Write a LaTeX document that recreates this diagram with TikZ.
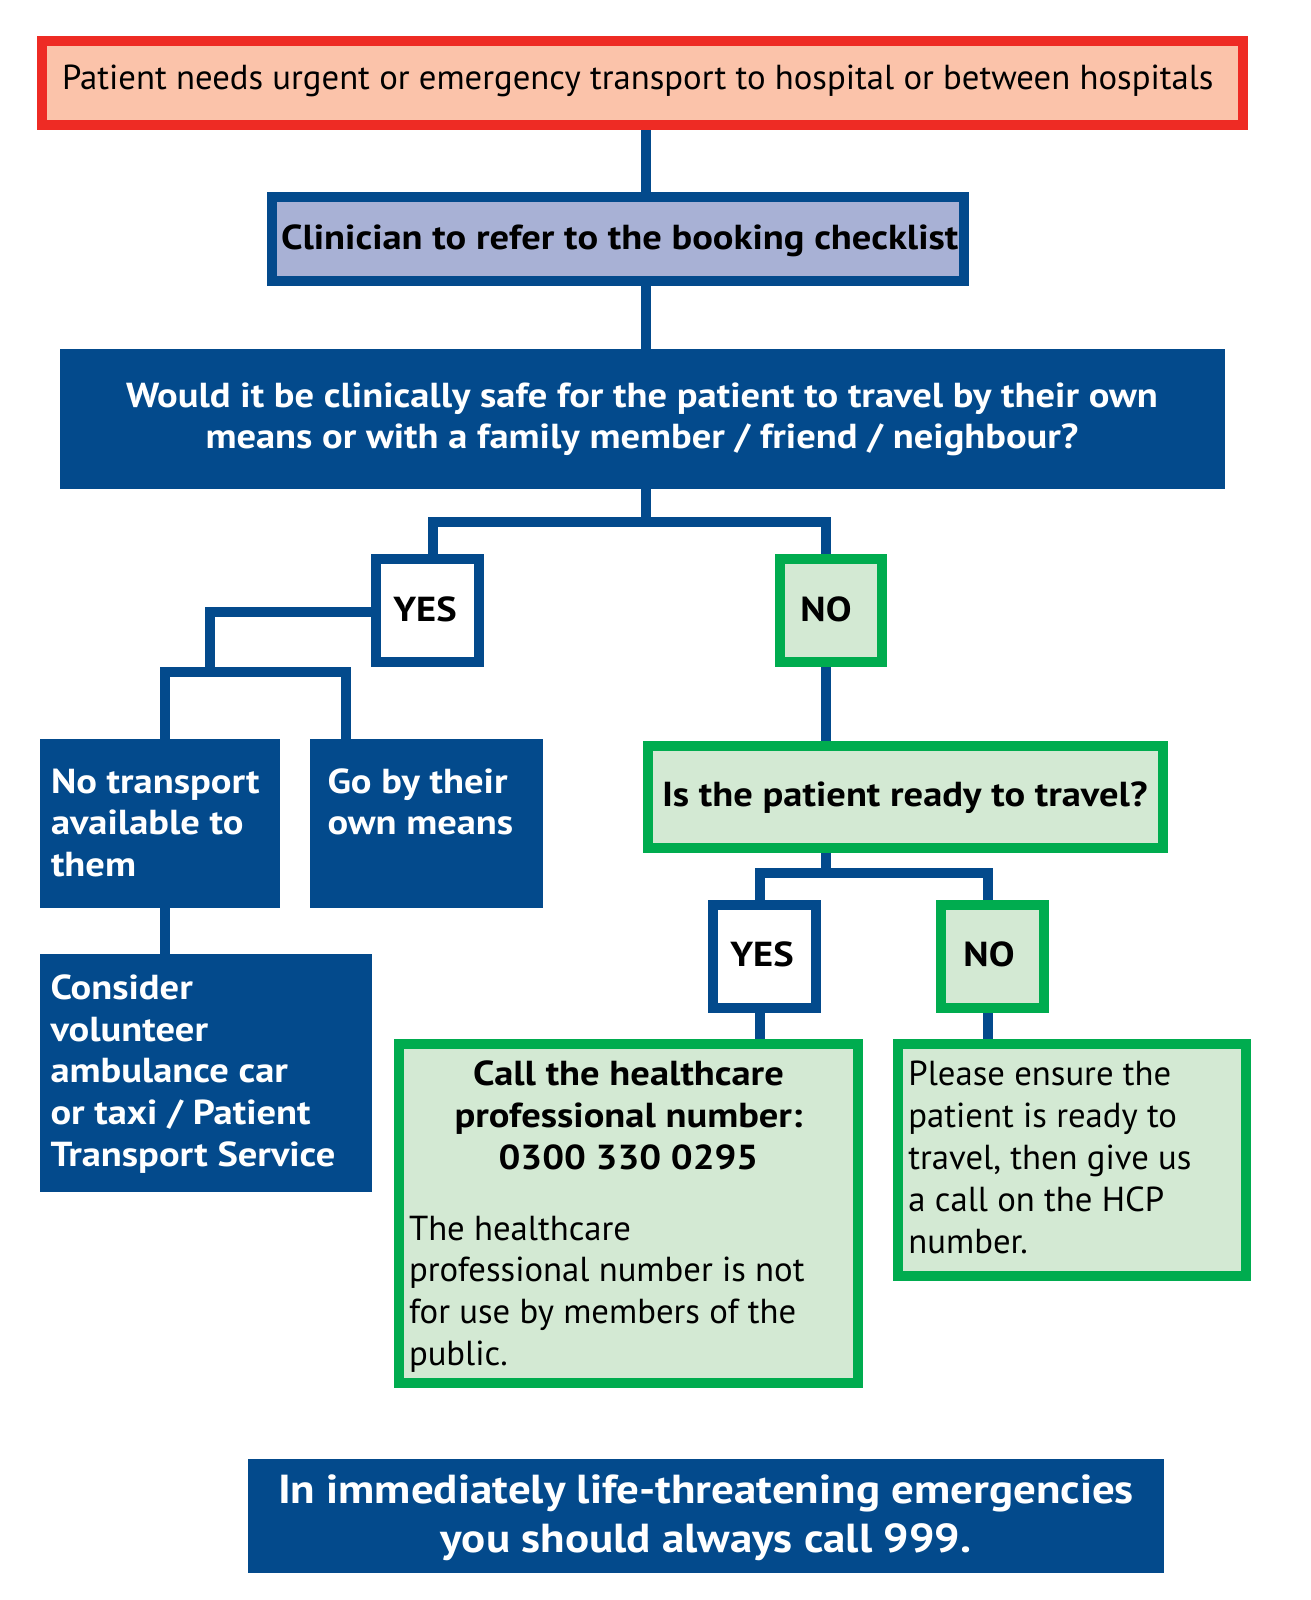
\documentclass[tikz,border=0pt]{standalone}
\usepackage{fontspec}
\setmainfont{PT Sans}[BoldFeatures={FakeStretch=1.11}]
\definecolor{nblue}{HTML}{034A8C}
\definecolor{nred}{HTML}{EE2B24}
\definecolor{salmon}{HTML}{FBC3AA}
\definecolor{lav}{HTML}{A8B1D5}
\definecolor{ngreen}{HTML}{00AC4F}
\definecolor{lgreen}{HTML}{D3E9D3}
\newcommand\fst{\rule{0pt}{32pt}}
\tikzset{
  box/.style={rectangle, inner sep=0pt, line width=10pt},
  redbox/.style={box, draw=nred, fill=salmon},
  bluefr/.style={box, draw=nblue},
  greenfr/.style={box, draw=ngreen, fill=lgreen},
  bluefill/.style={rectangle, inner sep=0pt, outer sep=0pt, draw=none, fill=nblue},
  conn/.style={draw=nblue, line width=10pt, line join=miter},
  txt/.style={inner sep=0pt, outer sep=0pt, font=\fontsize{34.7}{41.5}\selectfont},
  btxt/.style={txt, font=\fontsize{34.7}{41.5}\selectfont\bfseries},
  wtxt/.style={btxt, text=white},
}
\begin{document}
\begin{tikzpicture}[x=1pt,y=-1pt]
\useasboundingbox (0,0) rectangle (1310,1600);
% boxes
\node[redbox, minimum width=1201pt, minimum height=84pt] (top) at (642.5,83) {};
\node[bluefr, fill=lav, minimum width=692pt, minimum height=84pt] (clin) at (618,239) {};
\node[bluefill, minimum width=1165pt, minimum height=140pt] (would) at (642.5,419) {};
\node[bluefr, fill=white, minimum width=103pt, minimum height=103pt] (yes1) at (427.5,610.5) {};
\node[greenfr, minimum width=102pt, minimum height=103pt] (no1) at (831,610.5) {};
\node[bluefill, minimum width=240pt, minimum height=169pt] (notrans) at (160,823.5) {};
\node[bluefill, minimum width=233pt, minimum height=169pt] (goby) at (426.5,823.5) {};
\node[bluefill, minimum width=332pt, minimum height=238pt] (consider) at (206,1073) {};
\node[greenfr, minimum width=515pt, minimum height=102pt] (ready) at (905.5,797) {};
\node[bluefr, fill=white, minimum width=103pt, minimum height=103pt] (yes2) at (764.5,956.5) {};
\node[greenfr, minimum width=103pt, minimum height=103pt] (no2) at (992.5,956.5) {};
\node[greenfr, minimum width=459pt, minimum height=339pt] (call) at (628.5,1213.5) {};
\node[greenfr, minimum width=348pt, minimum height=232pt] (please) at (1072,1160) {};
\node[bluefill, minimum width=916pt, minimum height=114pt] (bottom) at (706,1516) {};
% connector coordinates
\coordinate (xa) at (646,0);
\coordinate (xy) at (433,0);
\coordinate (xn) at (826,0);
\coordinate (xl) at (210,0);
\coordinate (xnt) at (165,0);
\coordinate (xgb) at (346,0);
\coordinate (xy2) at (760,0);
\coordinate (xn2) at (987.5,0);
% connectors
\draw[conn] (top.south -| xa) -- (clin.north -| xa);
\draw[conn] (clin.south -| xa) -- (would.north -| xa);
\draw[conn] (would.south -| xa) -- ++(0,33);
\draw[conn] (yes1.north -| xy) -- ++(0,-32) -| (no1.north -| xn);
\draw[conn] (yes1.west |- 0,612) -| ([yshift=5pt]xl |- 0,672);
\draw[conn] (notrans.north -| xnt) -- ++(0,-67) -| (goby.north -| xgb);
\draw[conn] (notrans.south -| xnt) -- (consider.north -| xnt);
\draw[conn] (no1.south -| xn) -- (ready.north -| xn);
\draw[conn] (ready.south -| xn) -- ++(0,20);
\draw[conn] (yes2.north -| xy2) -- ++(0,-27) -| (no2.north -| xn2);
\draw[conn] (yes2.south -| xy2) -- (call.north -| xy2);
\draw[conn] (no2.south -| xn2) -- (please.north -| xn2);
% texts
\node[txt, anchor=base west] (ttop) at (62,89.3) {Patient needs urgent or emergency transport to hospital or between hospitals};
\node[btxt, anchor=base west] (tclin) at (281,249.3) {Clinician to refer to the booking checklist};
\node[wtxt, align=center, anchor=north] (twould) at (642,375.3) {\fst Would it be clinically safe for the patient to travel by their own\\means or with a family member / friend / neighbour?};
\node[btxt, anchor=base] (tyes1) at (425,621.7) {YES};
\node[btxt, anchor=base] (tno1) at (826,621.7) {NO};
\node[wtxt, align=left, anchor=north west] (tnotrans) at (51,761.3) {\fst No transport\\available to\\them};
\node[wtxt, align=left, anchor=north west] (tgoby) at (327.5,761.3) {\fst Go by their\\own means};
\node[wtxt, align=left, anchor=north west, font=\fontsize{34.7}{41.7}\selectfont\bfseries] (tconsider) at (50.5,967.3) {\fst Consider\\volunteer\\ambulance car\\or taxi / Patient\\Transport Service};
\node[btxt, anchor=base west] (tready) at (662,806) {Is the patient ready to travel?};
\node[btxt, anchor=base] (tyes2) at (762,966.7) {YES};
\node[btxt, anchor=base] (tno2) at (989,966.7) {NO};
\node[btxt, align=center, anchor=north, font=\fontsize{34.7}{41.7}\selectfont\bfseries] (tcall) at (628.5,1053.7) {\fst Call the healthcare\\professional number:\\0300 330 0295};
\node[txt, align=left, anchor=north west, font=\fontsize{34.7}{41.7}\selectfont] (tcall2) at (409,1208) {\fst The healthcare\\professional number is not\\for use by members of the\\public.};
\node[txt, align=left, anchor=north west, font=\fontsize{34.7}{41.9}\selectfont] (tplease) at (908.4,1053.7) {\fst Please ensure the\\patient is ready to\\travel, then give us\\a call on the HCP\\number.};
\node[wtxt, align=center, anchor=north, font=\fontsize{40.5}{49.4}\selectfont\bfseries] (tbottom) at (706,1471.3) {\fst In immediately life-threatening emergencies\\you should always call 999.};
\end{tikzpicture}
\end{document}
